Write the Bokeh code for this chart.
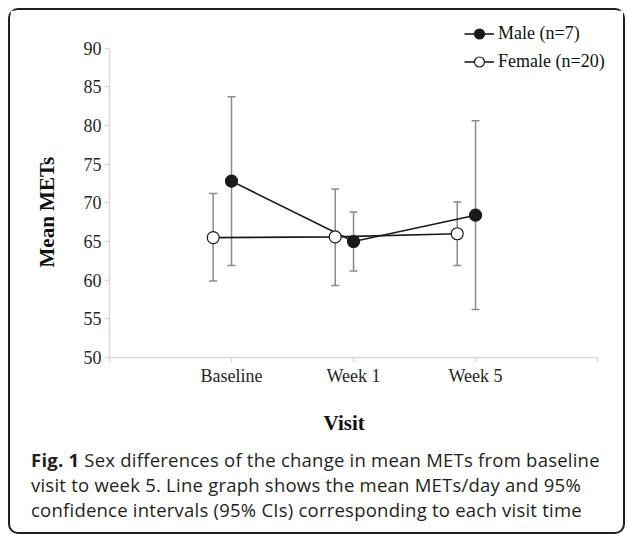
from bokeh.plotting import figure
from bokeh.models import (ColumnDataSource, Whisker, TeeHead, FixedTicker, Legend,
                          LegendItem, Div, Range1d, Title)
from bokeh.layouts import column
from bokeh.embed import file_html
from bokeh.resources import INLINE

visits = ["Baseline", "Week 1", "Week 5"]
male_mean = [72.8, 65.0, 68.4]
male_lower = [61.9, 61.2, 56.2]
male_upper = [83.7, 68.8, 80.6]
female_mean = [65.5, 65.6, 66.0]
female_lower = [59.9, 59.3, 61.9]
female_upper = [71.2, 71.8, 70.1]
y_ticks = [50, 55, 60, 65, 70, 75, 80, 85, 90]
x_label = "Visit"
y_label = "Mean METs"
male_name = "Male (n=7)"
female_name = "Female (n=20)"

pos = [i + 1 for i in range(len(visits))]
female_offset = -0.15

male_src = ColumnDataSource(dict(x=pos, mean=male_mean, lower=male_lower, upper=male_upper))
female_src = ColumnDataSource(dict(x=[v + female_offset for v in pos], mean=female_mean,
                                   lower=female_lower, upper=female_upper))

SERIF = "Liberation Serif"
AXIS_GRAY = "#d9d9d9"
BAR_GRAY = "#8c8c8c"
INK = "#1a1a1a"

# axes cover x 0..4 and y 50..90; the frame is a little larger so the legend fits inside it
x_axis_end = len(visits) + 1
y_min, y_max = y_ticks[0], y_ticks[-1]
x_view_end = x_axis_end * 510 / 489
y_view_end = y_min + (y_max - y_min) * 341 / 311.2

p = figure(width=613, height=444, output_backend="svg", toolbar_location=None,
           x_range=Range1d(0, x_view_end), y_range=Range1d(y_min, y_view_end),
           min_border_left=98, min_border_right=5, min_border_top=8, min_border_bottom=95)
p.outline_line_color = None
p.xgrid.visible = False
p.ygrid.visible = False
p.background_fill_color = "white"
p.border_fill_color = "white"

# axes
p.xaxis.ticker = FixedTicker(ticks=list(range(0, x_axis_end + 1)))
p.xaxis.major_label_overrides = {0: "", **{i + 1: v for i, v in enumerate(visits)}, x_axis_end: ""}
p.xaxis.bounds = (0, x_axis_end)
p.yaxis.ticker = FixedTicker(ticks=y_ticks)
p.yaxis.bounds = (y_min, y_max)
for ax in (p.xaxis[0], p.yaxis[0]):
    ax.axis_line_color = AXIS_GRAY
    ax.axis_line_width = 1.5
    ax.major_tick_line_color = AXIS_GRAY
    ax.major_tick_line_width = 1.5
    ax.major_tick_in = 0
    ax.major_tick_out = 5
    ax.minor_tick_line_color = None
    ax.major_label_text_font = SERIF
    ax.major_label_text_font_size = "18px"
    ax.major_label_text_color = "#262626"
    ax.major_label_standoff = 3

p.add_layout(Title(text=y_label, align="left", offset=90, standoff=44,
                   text_font=SERIF, text_font_style="bold", text_font_size="21px",
                   text_color="#111111"), "left")
p.add_layout(Title(text=x_label, align="left", offset=214, standoff=40,
                   text_font=SERIF, text_font_style="bold", text_font_size="21px",
                   text_color="#111111"), "below")

# error bars
for src in (male_src, female_src):
    w = Whisker(source=src, base="x", upper="upper", lower="lower",
                line_color=BAR_GRAY, line_width=1.5, level="underlay",
                upper_head=TeeHead(size=8, line_color=BAR_GRAY, line_width=1.5),
                lower_head=TeeHead(size=8, line_color=BAR_GRAY, line_width=1.5))
    p.add_layout(w)

ml = p.line("x", "mean", source=male_src, line_color=INK, line_width=1.6)
fl = p.line("x", "mean", source=female_src, line_color=INK, line_width=1.6)
mm = p.scatter("x", "mean", source=male_src, size=12, fill_color=INK, line_color=INK, line_width=1.2)
fm = p.scatter("x", "mean", source=female_src, size=12, fill_color="white", line_color=INK, line_width=1.2)

legend = Legend(items=[LegendItem(label=male_name, renderers=[ml, mm]),
                       LegendItem(label=female_name, renderers=[fl, fm])],
                location=(355, 283), orientation="vertical",
                border_line_alpha=0, background_fill_alpha=0,
                label_text_font=SERIF, label_text_font_size="18px", label_text_color="#111111",
                glyph_width=30, glyph_height=25, label_height=25, label_standoff=4,
                padding=0, spacing=3, margin=0)
p.add_layout(legend)

caption = Div(
    text=('<div style="padding-left:16px;padding-top:6px;white-space:nowrap;">'
          '<b>Fig. 1</b> Sex differences of the change in mean METs from baseline<br>'
          'visit to week 5. Line graph shows the mean METs/day and 95%<br>'
          'confidence intervals (95% CIs) corresponding to each visit time</div>'),
    width=613, height=91,
    styles={"font-family": "Open Sans", "font-size": "18.5px", "line-height": "25px",
            "letter-spacing": "0.23px", "color": "#231f20", "margin-top": "-13px"})

layout = column(p, caption, width=617, height=526, sizing_mode="fixed",
                styles={"border": "2px solid #231f20", "border-radius": "10px",
                        "background-color": "white", "margin-left": "8px",
                        "margin-top": "8px", "box-sizing": "border-box"})

open("out.html", "w").write(file_html(layout, INLINE))
